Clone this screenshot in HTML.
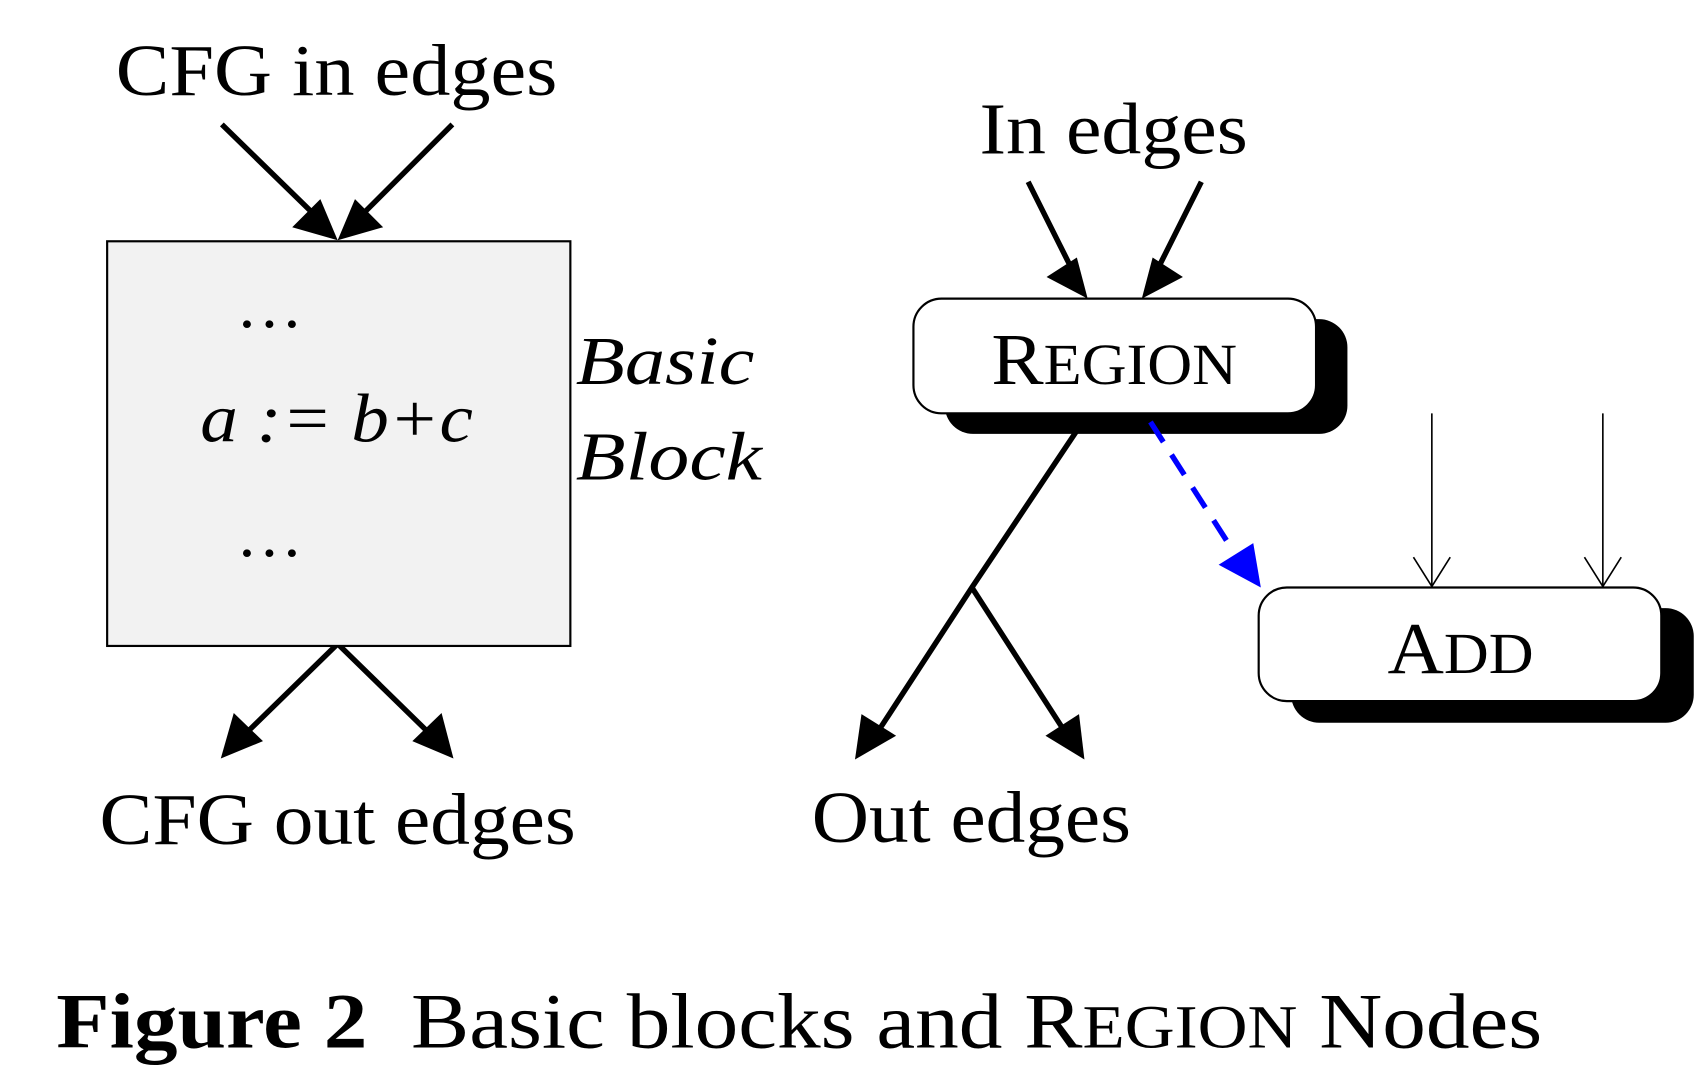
<!DOCTYPE html>
<html><head><style>html,body{margin:0;padding:0;background:#fff;}svg{display:block}</style></head>
<body>
<svg width="1697" height="1069" viewBox="0 0 1568 988" preserveAspectRatio="none" xmlns="http://www.w3.org/2000/svg" font-family="'Liberation Serif', serif">
<rect width="1568" height="988" fill="#fff"/>
<!-- left -->
<text x="107" y="88" font-size="68" textLength="408" lengthAdjust="spacingAndGlyphs">CFG in edges</text>
<g stroke="#000" stroke-width="5" fill="none">
<line x1="205" y1="115" x2="290" y2="198"/>
<line x1="418" y1="115" x2="335" y2="198"/>
<line x1="312" y1="595" x2="225" y2="680"/>
<line x1="312" y1="595" x2="399" y2="680"/>
</g>
<polygon points="312,222 270,210 296,184" fill="#000"/>
<polygon points="312,222 328,184 354,210" fill="#000"/>
<polygon points="204,701 216,659 243,685" fill="#000"/>
<polygon points="419,701 381,685 408,659" fill="#000"/>
<rect x="99" y="223" width="428" height="374" fill="#f2f2f2" stroke="#000" stroke-width="2"/>
<text x="218" y="302" font-size="60" textLength="62" lengthAdjust="spacingAndGlyphs">…</text>
<text x="185" y="408" font-size="64" font-style="italic" textLength="252" lengthAdjust="spacingAndGlyphs">a := b+c</text>
<text x="218" y="514" font-size="60" textLength="62" lengthAdjust="spacingAndGlyphs">…</text>
<text x="532" y="355" font-size="64" font-style="italic" textLength="165" lengthAdjust="spacingAndGlyphs">Basic</text>
<text x="532" y="443" font-size="64" font-style="italic" textLength="172" lengthAdjust="spacingAndGlyphs">Block</text>
<text x="92" y="780" font-size="68" textLength="440" lengthAdjust="spacingAndGlyphs">CFG out edges</text>
<!-- right -->
<text x="905" y="142" font-size="68" textLength="248" lengthAdjust="spacingAndGlyphs">In edges</text>
<g stroke="#000" stroke-width="5" fill="none">
<line x1="950" y1="168" x2="990" y2="248"/>
<line x1="1110" y1="168" x2="1070" y2="248"/>
<polyline points="995,398 898,543 810,678"/>
<line x1="898" y1="543" x2="985" y2="678"/>
</g>
<polygon points="1005,276 967,256 995,238" fill="#000"/>
<polygon points="1055,276 1065,238 1093,256" fill="#000"/>
<polygon points="790,702 796,660 828,680" fill="#000"/>
<polygon points="1002,702 966,680 997,660" fill="#000"/>
<rect x="873" y="295" width="372" height="106" rx="26" fill="#000"/>
<rect x="844" y="276" width="372" height="106" rx="26" fill="#fff" stroke="#000" stroke-width="2"/>
<text x="916" y="355" font-size="68" textLength="227" lengthAdjust="spacingAndGlyphs">R<tspan font-size="54">EGION</tspan></text>
<line x1="1063" y1="390" x2="1140" y2="510" stroke="#0000ff" stroke-width="5" stroke-dasharray="22,14"/>
<polygon points="1165,543 1126,522 1158,502" fill="#0000ff"/>
<g stroke="#000" stroke-width="1.5" fill="none">
<line x1="1323" y1="382" x2="1323" y2="542"/>
<line x1="1481" y1="382" x2="1481" y2="542"/>
<polyline points="1306,515 1323,542 1340,515"/>
<polyline points="1464,515 1481,542 1498,515"/>
</g>
<rect x="1193" y="562" width="372" height="106" rx="26" fill="#000"/>
<rect x="1163" y="543" width="372" height="105" rx="26" fill="#fff" stroke="#000" stroke-width="2"/>
<text x="1282" y="622" font-size="68" textLength="135" lengthAdjust="spacingAndGlyphs">A<tspan font-size="54">DD</tspan></text>
<text x="750" y="778" font-size="68" textLength="295" lengthAdjust="spacingAndGlyphs">Out edges</text>
<!-- caption -->
<text x="52" y="968" font-size="72" xml:space="preserve" textLength="1373" lengthAdjust="spacingAndGlyphs"><tspan font-weight="bold">Figure 2</tspan>  Basic blocks and R<tspan font-size="57">EGION</tspan> Nodes</text>
</svg>
</body></html>
